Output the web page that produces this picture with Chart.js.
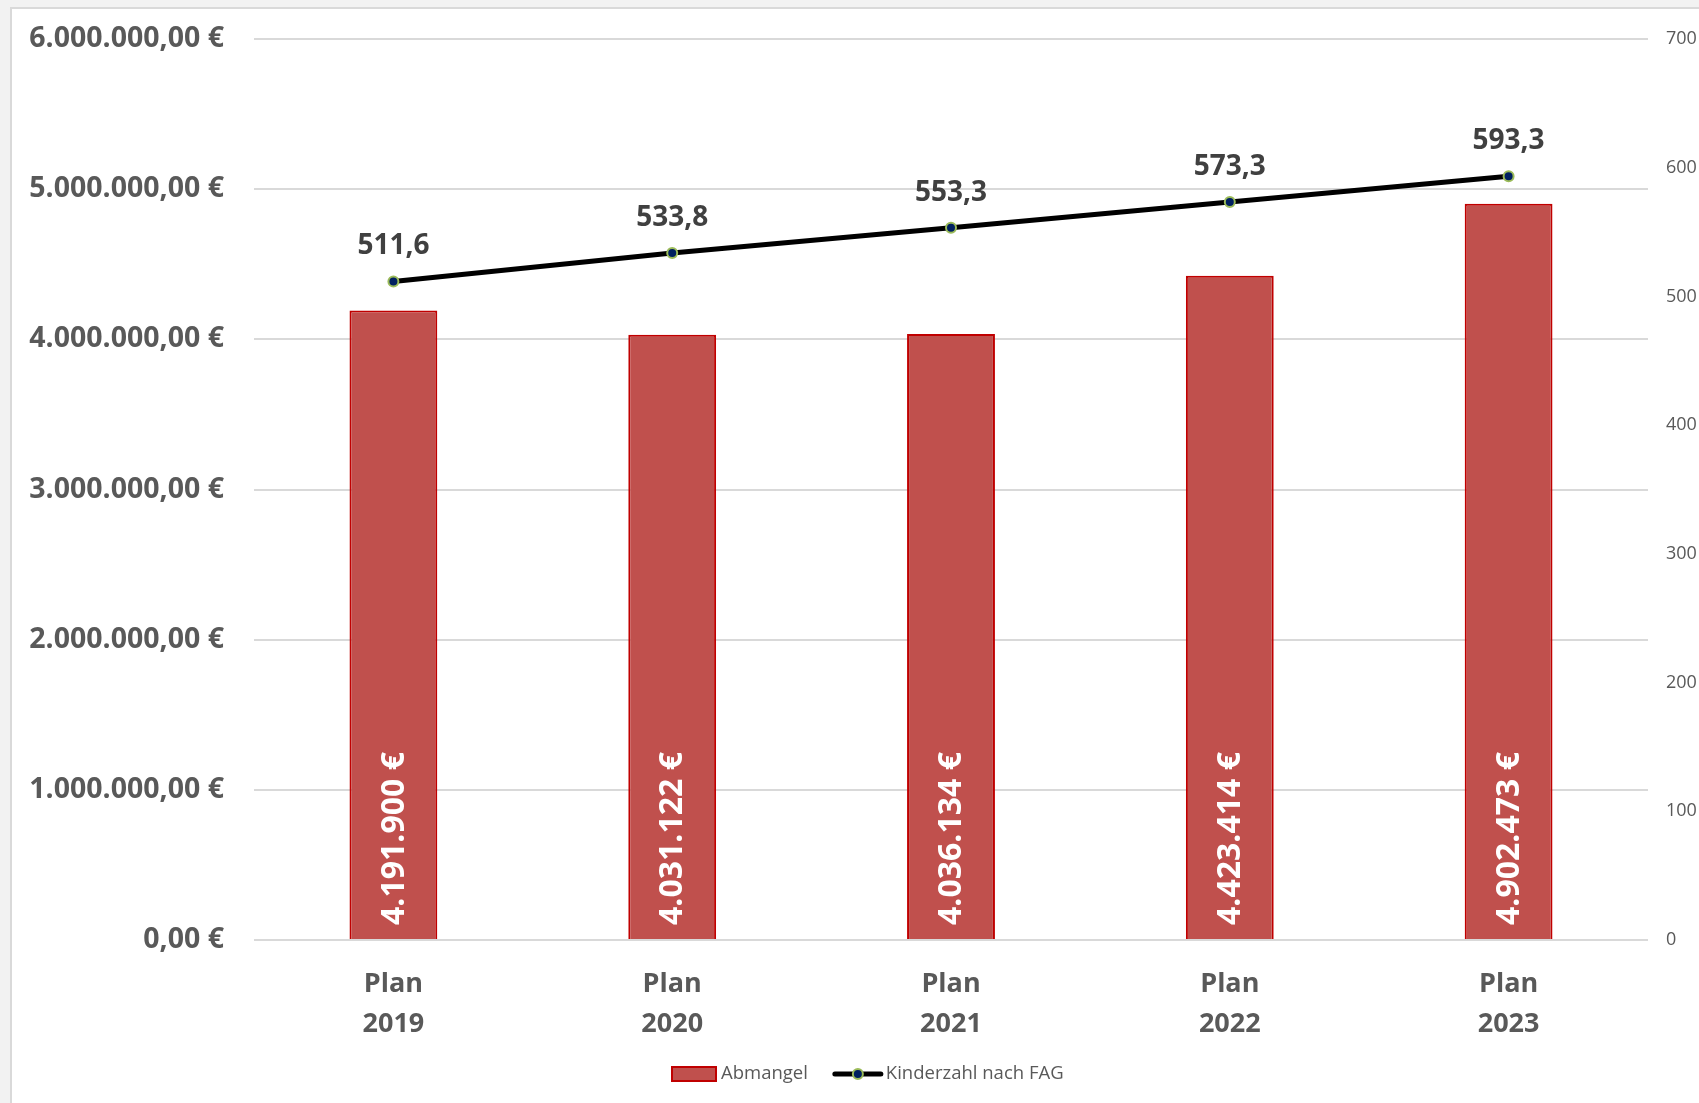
<!DOCTYPE html>
<html>
<head>
<meta charset="utf-8">
<script src="https://cdn.jsdelivr.net/npm/chart.js@4/dist/chart.umd.min.js"></script>
<style>
  html, body { margin: 0; padding: 0; background: #f2f2f2; }
  #wrap { width: 1699px; height: 1103px; }
</style>
</head>
<body>
<div id="wrap"><canvas id="myChart"></canvas></div>
<script>
var labels = [["Plan", "2019"], ["Plan", "2020"], ["Plan", "2021"], ["Plan", "2022"], ["Plan", "2023"]];
var abmangel = [4191900, 4031122, 4036134, 4423414, 4902473];
var kinderzahl = [511.6, 533.8, 553.3, 573.3, 593.3];

var FONT = "'Open Sans', sans-serif";
var grey = "#595959";

function euro(v, dec) {
    return v.toLocaleString("de-DE", { minimumFractionDigits: dec, maximumFractionDigits: dec }) + " €";
}

// frame, value labels and legend
var extras = {
    id: "extras",
    beforeDraw: function (chart) {
        var c = chart.ctx;
        c.save();
        c.fillStyle = "#f2f2f2";
        c.fillRect(0, 0, chart.width, chart.height);
        c.fillStyle = "#ffffff";
        c.fillRect(11, 8, chart.width, chart.height);
        c.strokeStyle = "#d9d9d9";
        c.lineWidth = 2;
        c.strokeRect(11, 8, chart.width + 10, chart.height + 10);
        c.restore();
    },
    afterDatasetsDraw: function (chart) {
        var c = chart.ctx;
        c.save();
        // bar labels, rotated
        var bars = chart.getDatasetMeta(1).data;
        c.fillStyle = "#ffffff";
        c.font = "bold 32px " + FONT;
        c.textAlign = "left";
        c.textBaseline = "middle";
        bars.forEach(function (b, i) {
            c.save();
            c.translate(b.x + 1, chart.chartArea.bottom - 15);
            c.rotate(-Math.PI / 2);
            c.fillText(euro(abmangel[i], 0), 0, 0);
            c.restore();
        });
        // line point labels
        var pts = chart.getDatasetMeta(0).data;
        c.fillStyle = "#404040";
        c.font = "bold 28px " + FONT;
        c.textAlign = "center";
        c.textBaseline = "middle";
        pts.forEach(function (p, i) {
            c.fillText(kinderzahl[i].toLocaleString("de-DE", { minimumFractionDigits: 1 }), p.x, p.y - 35);
        });
        c.restore();
    },
    afterDraw: function (chart) {
        var c = chart.ctx;
        var y = 1074;
        var x = 672;
        c.save();
        c.font = "18.5px " + FONT;
        c.textBaseline = "middle";
        c.textAlign = "left";
        // bar entry
        c.fillStyle = "#C0504D";
        c.fillRect(x, y - 7, 44, 14);
        c.strokeStyle = "#C00000";
        c.lineWidth = 2;
        c.strokeRect(x, y - 7, 44, 14);
        c.fillStyle = grey;
        c.fillText("Abmangel", x + 49, y);
        x += 49 + c.measureText("Abmangel").width + 27;
        // line entry
        c.strokeStyle = "#000000";
        c.lineWidth = 5;
        c.lineCap = "round";
        c.beginPath();
        c.moveTo(x, y);
        c.lineTo(x + 46, y);
        c.stroke();
        c.beginPath();
        c.arc(x + 23, y, 5, 0, Math.PI * 2);
        c.fillStyle = "#002060";
        c.fill();
        c.lineWidth = 2;
        c.strokeStyle = "#9BBB59";
        c.stroke();
        c.fillStyle = grey;
        c.fillText("Kinderzahl nach FAG", x + 51, y);
        c.restore();
    }
};

function fixWidth(w) {
    return function (s) {
        s.width = w;
        s.paddingTop = 0;
        s.paddingBottom = 0;
    };
}

var ctx = document.getElementById("myChart");

var myChart = new Chart(ctx, {
    type: "bar",
    data: {
        labels: labels,
        datasets: [
            {
                type: "line",
                label: "Kinderzahl nach FAG",
                data: kinderzahl,
                yAxisID: "y1",
                borderColor: "#000000",
                borderWidth: 5,
                pointRadius: 5,
                pointBackgroundColor: "#002060",
                pointBorderColor: "#9BBB59",
                pointBorderWidth: 2,
                tension: 0,
                order: 0
            },
            {
                label: "Abmangel",
                data: abmangel,
                yAxisID: "y",
                backgroundColor: "#C0504D",
                borderColor: "#C00000",
                borderWidth: 2,
                barPercentage: 0.315,
                categoryPercentage: 1,
                order: 1
            }
        ]
    },
    options: {
        responsive: true,
        maintainAspectRatio: false,
        animation: false,
        layout: { padding: { top: 39, left: 0, right: 0, bottom: 0 } },
        plugins: {
            legend: { display: false },
            tooltip: { enabled: false }
        },
        scales: {
            x: {
                grid: { display: false },
                border: { display: false },
                ticks: {
                    color: grey,
                    font: { family: FONT, size: 27, weight: "bold", lineHeight: 1.5 },
                    padding: 16,
                    maxRotation: 0
                },
                afterFit: function (s) { s.height = 163; }
            },
            y: {
                position: "left",
                min: 0,
                max: 6000000,
                grid: { color: "#d9d9d9", lineWidth: 2, drawTicks: false },
                border: { display: false },
                ticks: {
                    stepSize: 1000000,
                    color: grey,
                    padding: 30,
                    font: { family: FONT, size: 28.5, weight: "bold" },
                    callback: function (v) { return euro(v, 2); }
                },
                afterFit: fixWidth(254)
            },
            y1: {
                position: "right",
                min: 0,
                max: 700,
                grid: { display: false },
                border: { display: false },
                ticks: {
                    stepSize: 100,
                    color: grey,
                    padding: 10,
                    font: { family: FONT, size: 18 }
                },
                afterFit: fixWidth(51)
            }
        }
    },
    plugins: [extras]
});
</script>
</body>
</html>
